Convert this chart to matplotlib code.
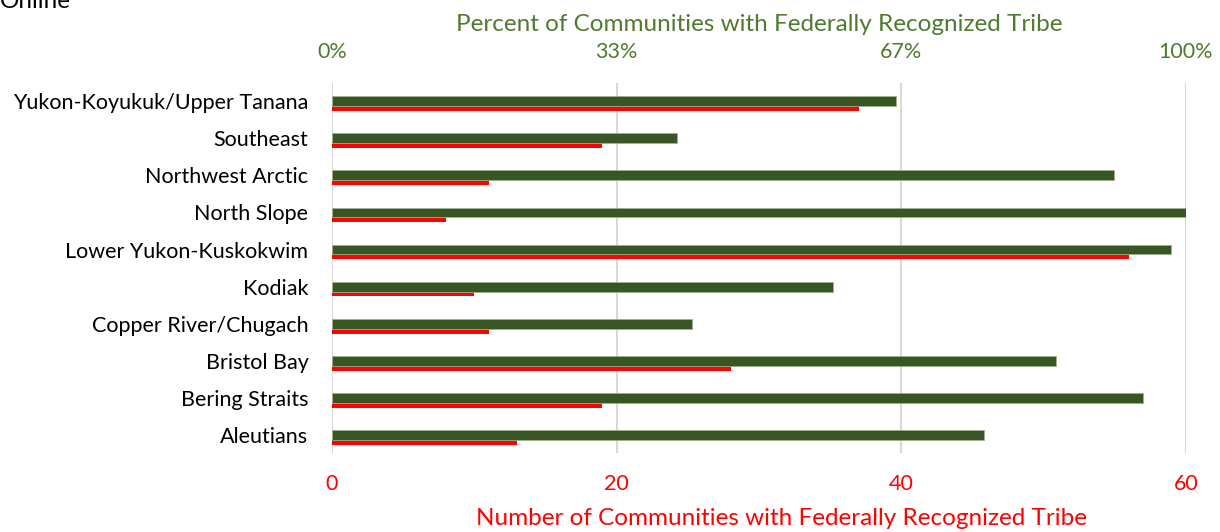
import matplotlib
matplotlib.use("Agg")
import matplotlib.pyplot as plt

plt.rcParams['font.family'] = ['Lato', 'DejaVu Sans']

# regions listed bottom to top (barh draws index 0 at the bottom)
regions = ['Aleutians', 'Bering Straits', 'Bristol Bay', 'Copper River/Chugach',
           'Kodiak', 'Lower Yukon-Kuskokwim', 'North Slope', 'Northwest Arctic',
           'Southeast', 'Yukon-Koyukuk/Upper Tanana']
n_tribe = [13, 19, 28, 11, 10, 56, 8, 11, 19, 37]
pct_tribe = [76.4, 95.0, 84.8, 42.2, 58.7, 98.2, 100.0, 91.6, 40.4, 66.0]

count_ticks = [0, 20, 40, 60]
pct_ticks = [0, 100 / 3, 200 / 3, 100]
pct_labels = ['0%', '33%', '67%', '100%']

GREEN = '#375623'
GREEN_TXT = '#4F7A30'
RED = '#FF0000'

fig = plt.figure(figsize=(12.2, 5.32), dpi=100)
ax = fig.add_axes([332 / 1220, 79 / 532, 854 / 1220, 370 / 532])
ax2 = ax.twiny()

y = list(range(len(regions)))
ax.barh([v - 0.195 for v in y], n_tribe, height=0.13, color=RED, zorder=3)
ax2.barh(y, pct_tribe, height=0.26, color=GREEN, edgecolor='#9DB08F',
         linewidth=0.6, zorder=3)

ax.set_xlim(0, 60)
ax2.set_xlim(0, 100)
ax.set_ylim(-0.477, 9.485)

ax.set_xticks(count_ticks)
ax.set_xticklabels([str(t) for t in count_ticks], color=RED, fontsize=15.5)
ax2.set_xticks(pct_ticks)
ax2.set_xticklabels(pct_labels, color=GREEN_TXT, fontsize=15.5)
ax.set_yticks(y)
ax.set_yticklabels(regions, fontsize=15.5, color='#000000')

ax.tick_params(axis='x', length=0, pad=15)
ax2.tick_params(axis='x', length=0, pad=15)
ax.tick_params(axis='y', length=0, pad=17)

ax.grid(axis='x', color='#D9D9D9', linewidth=1.5, zorder=0)
ax.set_axisbelow(True)
for a in (ax, ax2):
    for s in a.spines.values():
        s.set_visible(False)

ax.set_xlabel('Number of Communities with Federally Recognized Tribe',
              color=RED, fontsize=17.5, va='center')
ax.xaxis.set_label_coords((782 - 332) / 854, -0.177)
ax2.set_xlabel('Percent of Communities with Federally Recognized Tribe',
               color=GREEN_TXT, fontsize=17.5, va='center')
ax2.xaxis.set_label_coords(0.5, 1.157)

fig.text(0.0, 1 - 8 / 532, 'Online', fontsize=17.5, va='baseline', ha='left')

fig.savefig('out.png', dpi=100)
